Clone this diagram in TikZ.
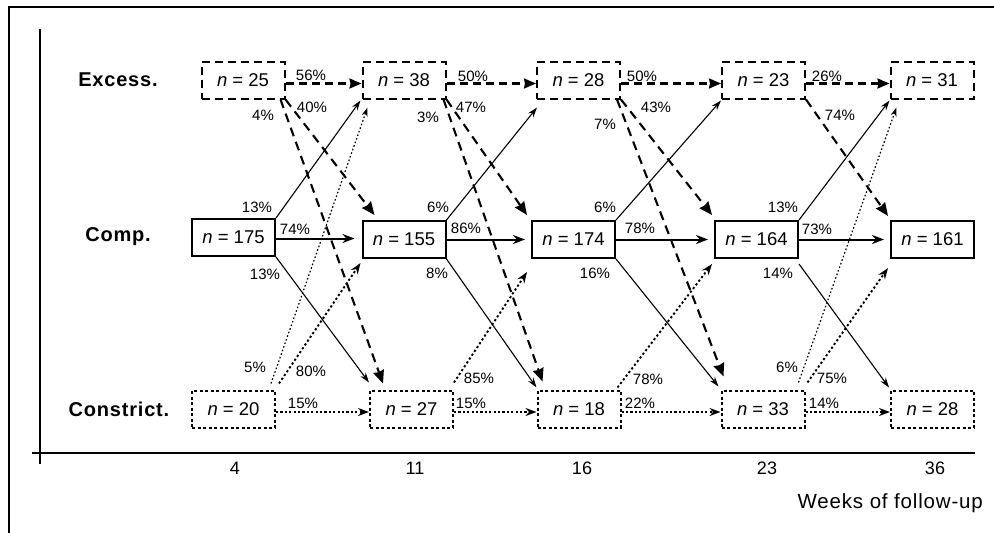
\documentclass[tikz,border=0pt]{standalone}
\usepackage{fontspec}
\setmainfont{Liberation Sans}
\newfontfamily\rowfont{Liberation Sans}[LetterSpace=4]
\newfontfamily\weekfont{Liberation Sans}[LetterSpace=4]
\usetikzlibrary{arrows.meta,calc}
\begin{document}
\begin{tikzpicture}[x=1pt,y=-1pt,
  box/.style={minimum width=83pt,minimum height=37pt,inner sep=0pt,font=\fontsize{18.5}{18.5}\selectfont,line width=2pt},
  exbox/.style={box,draw,dash pattern=on 8pt off 5pt},
  cobox/.style={box,draw},
  cnbox/.style={box,draw,dash pattern=on 3pt off 2.5pt},
  pct/.style={font=\fontsize{15}{15}\selectfont,inner sep=0pt},
  rowlab/.style={font=\rowfont\bfseries\fontsize{20}{20}\selectfont,inner sep=0pt},
  ticklab/.style={font=\fontsize{18}{18}\selectfont,inner sep=0pt},
  exh/.style={line width=2.1pt,dash pattern=on 8pt off 5pt,-{Stealth[length=12pt,width=10pt,inset=1pt]}},
  exd/.style={line width=2.1pt,dash pattern=on 9pt off 6pt,-{Stealth[length=13pt,width=11pt,inset=1pt]}},
  coh/.style={line width=2pt,-{Stealth[length=12pt,width=9pt]}},
  cod/.style={line width=1.1pt,-{Stealth[length=10pt,width=6.5pt]}},
  cnh/.style={line width=2pt,dash pattern=on 2.2pt off 2.2pt,-{Stealth[length=11pt,width=8pt]}},
  cnd/.style={line width=1.9pt,dash pattern=on 2.2pt off 2.4pt,-{Stealth[length=11pt,width=8pt]}},
  cnt/.style={line width=1.2pt,dash pattern=on 1.6pt off 2.2pt,-{Stealth[length=9pt,width=6pt]}}
]
\useasboundingbox (0,0) rectangle (994,533);
% frame and axes
\draw[line width=2pt] (9,533) -- (9,7) -- (994,7);
\draw[line width=2pt] (40,29) -- (40,464);
\draw[line width=2pt] (32,453) -- (975,453);

% row labels
\node[rowlab] (rE) at (118,80) {Excess.};
\node[rowlab] (rC) at (118,237) {Comp.};
\node[rowlab] (rK) at (119,409) {Constrict.};

% axis labels
\node[ticklab] (t1) at (235,468) {4};
\node[ticklab] (t2) at (415,468) {11};
\node[ticklab] (t3) at (582,468) {16};
\node[ticklab] (t4) at (767,468) {23};
\node[ticklab] (t5) at (935,468) {36};
\node[font=\weekfont\fontsize{20.5}{20.5}\selectfont,inner sep=0pt,anchor=east] (wk) at (983,503) {Weeks of follow-up};

% boxes
\node[exbox] (E1) at (243,80) {\textit{n} = 25};
\node[exbox] (E2) at (404,80) {\textit{n} = 38};
\node[exbox] (E3) at (578.5,80) {\textit{n} = 28};
\node[exbox] (E4) at (763.5,80) {\textit{n} = 23};
\node[exbox] (E5) at (932,80) {\textit{n} = 31};

\node[cobox] (C1) at (233.5,237.5) {\textit{n} = 175};
\node[cobox] (C2) at (404,239.5) {\textit{n} = 155};
\node[cobox] (C3) at (573.5,239.5) {\textit{n} = 174};
\node[cobox] (C4) at (756.5,239.5) {\textit{n} = 164};
\node[cobox] (C5) at (932.5,239.5) {\textit{n} = 161};

\node[cnbox] (K1) at (233.5,409) {\textit{n} = 20};
\node[cnbox] (K2) at (411.5,409) {\textit{n} = 27};
\node[cnbox] (K3) at (579,409) {\textit{n} = 18};
\node[cnbox] (K4) at (763,409) {\textit{n} = 33};
\node[cnbox] (K5) at (932.5,409) {\textit{n} = 28};

% horizontal arrows
\draw[exh] ($(E1.east)+(0,3.5)$) -- ($(E2.west)+(0,3.5)$);
\draw[exh] ($(E2.east)+(0,3.5)$) -- ($(E3.west)+(0,3.5)$);
\draw[exh] ($(E3.east)+(0,3.5)$) -- ($(E4.west)+(0,3.5)$);
\draw[exh] ($(E4.east)+(0,3.5)$) -- ($(E5.west)+(0,3.5)$);

\draw[coh] ($(C1.east)+(0,1)$) -- ($(C2.west)+(-7,-1)$);
\draw[coh] (C2.east) -- ($(C3.west)+(-6,0)$);
\draw[coh] (C3.east) -- ($(C4.west)+(-6,0)$);
\draw[coh] (C4.east) -- ($(C5.west)+(-6,0)$);

\draw[cnh] ($(K1.east)+(0,3)$) -- ($(K2.west)+(0,3)$);
\draw[cnh] ($(K2.east)+(0,3)$) -- ($(K3.west)+(0,3)$);
\draw[cnh] ($(K3.east)+(0,3)$) -- ($(K4.west)+(0,3)$);
\draw[cnh] ($(K4.east)+(0,3)$) -- ($(K5.west)+(0,3)$);

% transition 1
\draw[exd] (E1.south east) -- ($(C2.north west)+(13,-5)$);
\draw[exd] ($(E1.south east)+(-5,0)$) -- ($(K2.north west)+(14,-6)$);
\draw[cod] (C1.north east) -- ($(E2.south west)+(-1,1)$);
\draw[cod] (C1.south east) -- ($(K2.north west)+(0,-7)$);
\draw[cnt] ($(K1.north east)+(-5,-6)$) -- ($(E2.south west)+(6,8)$);
\draw[cnd] ($(K1.north east)+(3,-6)$) -- ($(C2.south west)+(-1,4)$);

% transition 2
\draw[exd] (E2.south east) -- ($(C3.north west)+(-4,-5)$);
\draw[exd] ($(E2.south east)+(-3,0)$) -- ($(K3.north west)+(6,-8)$);
\draw[cod] (C2.north east) -- ($(E3.south west)+(1,8)$);
\draw[cod] (C2.south east) -- ($(K3.north west)+(0,-2)$);
\draw[cnd] ($(K2.north east)+(0,-7)$) -- ($(C3.south west)+(-4,13)$);

% transition 3
\draw[exd] (E3.south east) -- ($(C4.north west)+(-2,-5)$);
\draw[exd] ($(E3.south east)+(-4,0)$) -- ($(K4.north west)+(3,-13)$);
\draw[cod] (C3.north east) -- ($(E4.south west)+(0,1)$);
\draw[cod] (C3.south east) -- ($(K4.north west)+(-2,-3)$);
\draw[cnd] ($(K3.north east)+(-4,-2)$) -- ($(C4.south west)+(-2,5)$);

% transition 4
\draw[exd] (E4.south east) -- ($(C5.north west)+(-2,-4)$);
\draw[cod] (C4.north east) -- ($(E5.south west)+(0,1)$);
\draw[cod] ($(C4.south east)+(0,5)$) -- ($(K5.north west)+(-1,-2)$);
\draw[cnt] ($(K4.north east)+(-7,-7)$) -- ($(E5.south west)+(7,8)$);
\draw[cnd] ($(K4.north east)+(2,-7)$) -- ($(C5.south west)+(-2,9)$);

% percentages
\node[pct] (p11) at (311,75) {56\%};
\node[pct] (p12) at (312,107) {40\%};
\node[pct] (p13) at (263,115) {4\%};
\node[pct] (p14) at (257,207) {13\%};
\node[pct] (p15) at (295,229) {74\%};
\node[pct] (p16) at (265,274) {13\%};
\node[pct] (p17) at (255,367) {5\%};
\node[pct] (p18) at (311,371) {80\%};
\node[pct] (p19) at (303,403) {15\%};

\node[pct] (p21) at (473,76) {50\%};
\node[pct] (p22) at (471,107) {47\%};
\node[pct] (p23) at (428,117) {3\%};
\node[pct] (p24) at (438,207) {6\%};
\node[pct] (p25) at (466,228) {86\%};
\node[pct] (p26) at (437,273) {8\%};
\node[pct] (p27) at (479,378) {85\%};
\node[pct] (p28) at (471,403) {15\%};

\node[pct] (p31) at (642,76) {50\%};
\node[pct] (p32) at (656,107) {43\%};
\node[pct] (p33) at (605,124) {7\%};
\node[pct] (p34) at (605,207) {6\%};
\node[pct] (p35) at (640,228) {78\%};
\node[pct] (p36) at (595,273) {16\%};
\node[pct] (p37) at (648,379) {78\%};
\node[pct] (p38) at (640,403) {22\%};

\node[pct] (p41) at (827,76) {26\%};
\node[pct] (p42) at (840,115) {74\%};
\node[pct] (p43) at (783,207) {13\%};
\node[pct] (p44) at (817,229) {73\%};
\node[pct] (p45) at (778,273) {14\%};
\node[pct] (p46) at (787,367) {6\%};
\node[pct] (p47) at (832,378) {75\%};
\node[pct] (p48) at (824,403) {14\%};
\end{tikzpicture}
\end{document}
